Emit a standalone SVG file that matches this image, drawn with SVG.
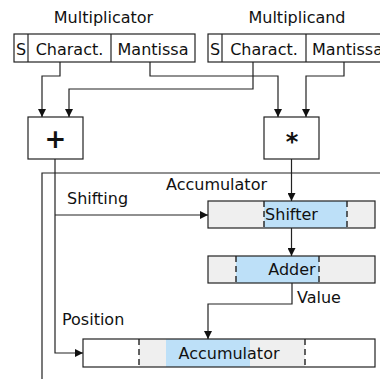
<svg xmlns="http://www.w3.org/2000/svg" width="380" height="379" viewBox="0 0 380 379">
  <style>
    text { font-family: "DejaVu Sans", "Liberation Sans", sans-serif; font-size: 16px; fill: #111; }
    .mid { text-anchor: middle; }
    .op { font-weight: bold; text-anchor: middle; }
    .box { fill: #fff; stroke: #222; stroke-width: 1.2; }
    .gray { fill: #efefef; }
    .blue { fill: #bde0f8; }
    .frame { fill: none; stroke: #222; stroke-width: 1.2; }
    .dash { stroke: #222; stroke-width: 1.4; stroke-dasharray: 6 4; }
    .wire { fill: none; stroke: #222; stroke-width: 1.2; }
    .arrow { marker-end: url(#head); }
  </style>
  <defs>
    <marker id="head" viewBox="0 0 10 10" refX="10" refY="5" markerWidth="8" markerHeight="8" markerUnits="userSpaceOnUse" orient="auto">
      <path d="M0,0 L10,5 L0,10 z" fill="#111"/>
    </marker>
  </defs>

  <rect width="380" height="379" fill="#fff"/>

  <!-- accumulator frame -->
  <g id="accumulator-frame">
    <path class="frame" d="M42,379 V173 H381"/>
    <text x="216.5" y="190" class="mid">Accumulator</text>
  </g>

  <!-- multiplicator register -->
  <g id="multiplicator">
    <text x="103.5" y="23" class="mid">Multiplicator</text>
    <rect class="box" x="14" y="34" width="181" height="28"/>
    <line class="frame" x1="28" y1="34" x2="28" y2="62"/>
    <line class="frame" x1="111" y1="34" x2="111" y2="62"/>
    <text x="21" y="55" class="mid">S</text>
    <text x="69.5" y="55" class="mid">Charact.</text>
    <text x="153" y="55" class="mid">Mantissa</text>
  </g>

  <!-- multiplicand register -->
  <g id="multiplicand">
    <text x="297" y="23" class="mid">Multiplicand</text>
    <rect class="box" x="208" y="34" width="181" height="28"/>
    <line class="frame" x1="222" y1="34" x2="222" y2="62"/>
    <line class="frame" x1="306" y1="34" x2="306" y2="62"/>
    <text x="215" y="55" class="mid">S</text>
    <text x="264" y="55" class="mid">Charact.</text>
    <text x="347.5" y="55" class="mid">Mantissa</text>
  </g>

  <!-- adder for characteristics -->
  <g id="plus">
    <rect class="box" x="28" y="117" width="55" height="42"/>
    <text x="55.5" y="148" class="op" style="font-size:26px">+</text>
  </g>

  <!-- multiplier for mantissas -->
  <g id="times">
    <rect class="box" x="264" y="117" width="55" height="42"/>
    <text x="292" y="150" class="op" style="font-size:24px">*</text>
  </g>

  <!-- shifter register -->
  <g id="shifter">
    <rect class="gray" x="208" y="201" width="167" height="27"/>
    <rect class="blue" x="264" y="201" width="83" height="27"/>
    <line class="dash" x1="264" y1="201" x2="264" y2="228"/>
    <line class="dash" x1="347" y1="201" x2="347" y2="228"/>
    <rect class="frame" x="208" y="201" width="167" height="27"/>
    <text x="291.5" y="219.5" class="mid">Shifter</text>
  </g>

  <!-- adder register -->
  <g id="adder">
    <rect class="gray" x="208" y="256" width="167" height="27"/>
    <rect class="blue" x="236" y="256" width="83" height="27"/>
    <line class="dash" x1="236" y1="256" x2="236" y2="283"/>
    <line class="dash" x1="319" y1="256" x2="319" y2="283"/>
    <rect class="frame" x="208" y="256" width="167" height="27"/>
    <text x="292" y="275" class="mid">Adder</text>
  </g>

  <!-- accumulator register -->
  <g id="accumulator">
    <rect fill="#fff" x="83" y="339" width="292" height="28"/>
    <rect class="gray" x="139" y="339" width="166" height="28"/>
    <rect class="blue" x="166" y="339" width="84" height="28"/>
    <line class="dash" x1="139" y1="339" x2="139" y2="367"/>
    <line class="dash" x1="305" y1="339" x2="305" y2="367"/>
    <rect class="frame" x="83" y="339" width="292" height="28"/>
    <text x="229" y="358.5" class="mid">Accumulator</text>
  </g>

  <!-- connectors -->
  <g id="connectors">
    <path class="wire arrow" d="M60,62 V76 H42 V117"/>
    <path class="wire arrow" d="M253,62 V89 H69 V117"/>
    <path class="wire arrow" d="M150,62 V76 H278 V117"/>
    <path class="wire arrow" d="M344,62 V76 H306 V117"/>
    <path class="wire arrow" d="M55,159 V353 H83"/>
    <path class="wire arrow" d="M55,215 H208"/>
    <path class="wire arrow" d="M291.5,159 V201"/>
    <path class="wire arrow" d="M291.5,228 V256"/>
    <path class="wire arrow" d="M292,283 V304 H208 V339"/>
    <text x="67" y="204">Shifting</text>
    <text x="297" y="303">Value</text>
    <text x="62" y="325">Position</text>
  </g>
</svg>
